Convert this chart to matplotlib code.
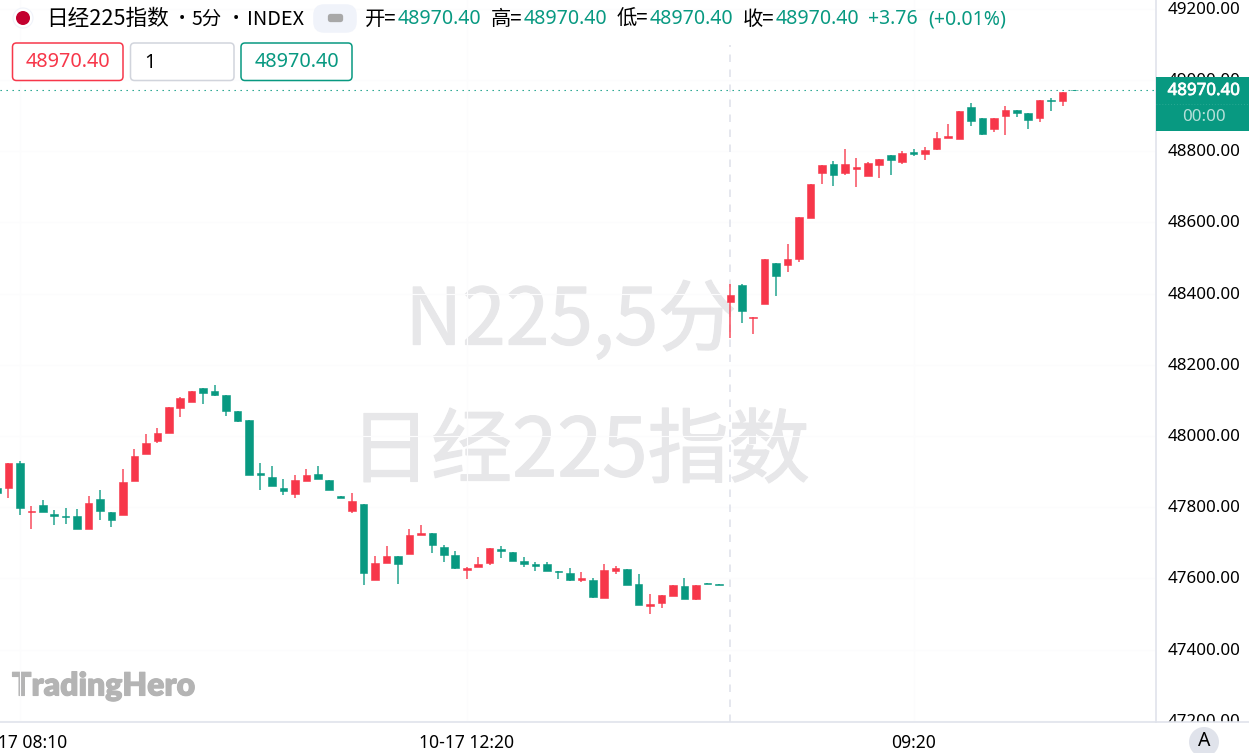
import numpy as np
import matplotlib
matplotlib.use("Agg")
import matplotlib.pyplot as plt
import matplotlib.patheffects as pe
from matplotlib.patches import FancyBboxPatch, Circle, Rectangle
from matplotlib.lines import Line2D
from matplotlib.transforms import Bbox, ScaledTranslation

opens = [47853,47854,47924,47785,47805,47780,47775,47776,47738,47822,47787,47778,47874,47949,47985,48009,48078,48096,48135,48127,48116,48069,48046,47895,47886,47854,47838,47874,47894,47875,47831,
         47788,47809,47594,47644,47664,47668,47721,47727,47688,47666,47623,47633,47644,47682,47675,47648,47639,47639,47620,47615,47595,47594,47546,47622,47627,47584,47522,47531,47551,47579,47543,47588,47585,
         48375,48424,48330,48370,48485,48480,48497,48612,48740,48764,48739,48750,48729,48762,48788,48770,48797,48792,48805,48838,48835,48923,48893,48862,48900,48915,48906,48892,48945,48941,48973]
highs = [47860,47923,47930,47802,47820,47791,47797,47794,47832,47847,47787,47908,47964,48006,48021,48082,48109,48126,48135,48143,48116,48069,48046,47923,47916,47879,47890,47908,47916,47875,47831,
         47841,47809,47664,47690,47664,47739,47751,47727,47693,47676,47631,47659,47686,47691,47675,47659,47645,47647,47620,47628,47619,47600,47639,47634,47627,47611,47556,47553,47580,47600,47582,47588,47585,
         48427,48427,48334,48498,48485,48538,48615,48707,48760,48773,48805,48782,48770,48779,48788,48800,48805,48811,48855,48876,48913,48936,48893,48892,48927,48915,48906,48944,48949,48967,48973]
lows = [47835,47827,47777,47740,47785,47751,47753,47740,47738,47764,47743,47778,47874,47949,47979,48009,48053,48096,48089,48111,48056,48038,47890,47849,47859,47833,47827,47874,47880,47847,47827,
        47783,47582,47594,47644,47585,47668,47721,47672,47647,47625,47597,47631,47637,47658,47648,47633,47620,47620,47598,47592,47591,47545,47546,47611,47580,47525,47500,47518,47551,47542,47540,47585,47582,
        48274,48318,48285,48370,48393,48460,48489,48612,48709,48703,48732,48698,48729,48724,48733,48765,48785,48775,48803,48838,48835,48872,48844,48855,48844,48896,48861,48883,48914,48927,48970]
closes = [47839,47923,47799,47789,47786,47776,47773,47740,47811,47790,47763,47870,47945,47981,48008,48082,48107,48126,48122,48114,48069,48042,47890,47891,47859,47844,47877,47891,47880,47847,47827,
          47818,47614,47644,47663,47639,47722,47726,47695,47666,47628,47628,47639,47686,47677,47648,47639,47635,47620,47617,47594,47600,47547,47623,47629,47582,47525,47528,47553,47580,47542,47582,47585,47582,
          48395,48351,48334,48498,48448,48496,48615,48707,48760,48732,48764,48756,48766,48779,48774,48795,48792,48803,48836,48842,48913,48886,48847,48892,48915,48906,48888,48944,48941,48967,48970.4]
bar_index = list(range(-1, 94))
session_break = 63
last_price = 48970.40
price_ticks = [47200,47400,47600,47800,48000,48200,48400,48600,48800,49000,49200]
time_tick_index = [1, 40, 79]
time_tick_labels = ["10-17 08:10", "10-17 12:20", "09:20"]

UP = "#f7374a"
DOWN = "#089981"
TEXT = "#000000"
LINE = "#e0e3eb"
CJK = ["Noto Sans CJK SC", "DejaVu Sans"]
NUM = ["Noto Sans", "DejaVu Sans"]
W, H = 1249, 753
AX_R, AX_B = 1156, 722

fig = plt.figure(figsize=(W/100, H/100), dpi=100, facecolor="white")
ax = fig.add_axes([0, 1-AX_B/H, AX_R/W, AX_B/H])
ax.set_xlim(-0.73, 100.15)
ax.set_ylim(47196.5, 49224.6)
ax.set_axisbelow(True)
ax.grid(True, color="#fcfcfd", lw=0.8)
for s in ("top", "left"):
    ax.spines[s].set_visible(False)
for s in ("right", "bottom"):
    ax.spines[s].set_color(LINE)
    ax.spines[s].set_linewidth(1.2)

ax.yaxis.tick_right()
ax.set_yticks(price_ticks)
ax.set_yticklabels([f"{p:.2f}" for p in price_ticks], family=NUM, fontsize=12.2, color=TEXT)
ax.set_xticks(time_tick_index)
ax.set_xticklabels(time_tick_labels, family=NUM, fontsize=12.6, color=TEXT)
ax.tick_params(axis="y", length=0, pad=8.6)
ax.tick_params(axis="x", length=0, pad=9)
shift = ScaledTranslation(0, 1.0/100, fig.dpi_scale_trans)
for lbl in ax.get_yticklabels():
    lbl.set_transform(lbl.get_transform() + shift)
    lbl.set_clip_on(True)
    lbl.set_clip_box(Bbox([[AX_R, H-AX_B], [W, H]]))

wm = [pe.withStroke(linewidth=0.9, foreground="#e7e7e9")]
ax.text(571/AX_R, 1-322/AX_B, "N225,5分", transform=ax.transAxes, family=CJK, fontsize=56.5,
        color="#e7e7e9", ha="center", va="center", zorder=0.5, path_effects=wm)
ax.text(580/AX_R, 1-453/AX_B, "日经225指数", transform=ax.transAxes, family=CJK, fontsize=58.5,
        color="#e7e7e9", ha="center", va="center", zorder=0.5, path_effects=wm)
ax.text(12/AX_R, 1-686/AX_B, "TradingHero", transform=ax.transAxes, family=["Lato", "DejaVu Sans"],
        fontsize=23, fontweight="heavy", color="#b4b4b4", ha="left", va="center", zorder=0.5,
        path_effects=[pe.withStroke(linewidth=0.8, foreground="#b4b4b4")])

ax.axvline(session_break, ymin=0, ymax=1-45/AX_B, color=LINE, lw=1.2, ls=(0, (4.5, 4.5)), zorder=1)
ax.axhline(last_price, color=DOWN, lw=0.8, ls=(0, (1.2, 4.2)), zorder=1)

o, c, hi, lo = map(np.array, (opens, closes, highs, lows))
idx = np.array(bar_index)
cols = np.where(c > o, UP, DOWN)
ax.vlines(idx, lo, hi, colors=cols, lw=1.15, alpha=0.85, zorder=2)
bottoms = np.minimum(o, c)
heights = np.maximum(np.abs(c - o), 1)
ax.bar(idx, heights, bottom=bottoms, width=0.66, color=cols, edgecolor=cols, lw=0.4, zorder=3)

ov = fig.add_axes([0, 0, 1, 1], zorder=5)
ov.set_xlim(0, W)
ov.set_ylim(H, 0)
ov.axis("off")
ov.patch.set_alpha(0)

def label(x, y, s, color=TEXT, size=14, fam=NUM, ha="left", **kw):
    ov.text(x, y, s, color=color, fontsize=size, family=fam, ha=ha, va="center", **kw)

def button(x0, y0, x1, y1, edge, face="white", r=4, lw=1.1):
    ov.add_patch(FancyBboxPatch((x0+r, y0+r), x1-x0-2*r, y1-y0-2*r, boxstyle=f"round,pad={r},rounding_size={r}",
                                fc=face, ec=edge, lw=lw))

ov.add_line(Line2D([AX_R, W], [AX_B, AX_B], color=LINE, lw=1.2))
ov.add_patch(Rectangle((AX_R, 77), W-AX_R, 54, fc=DOWN, ec="none"))
ov.add_line(Line2D([AX_R, W], [103.5, 103.5], color="#2aa893", lw=0.7, ls=(0, (1, 2))))
label(1204, 91, f"{last_price:.2f}", color="white", size=12.2, ha="center",
      path_effects=[pe.withStroke(linewidth=0.5, foreground="white")])
label(1204, 117, "00:00", color="#b5e0d9", size=12.2, ha="center")

ov.add_patch(Circle((1204, 742), 15, fc=LINE, ec="none"))
label(1204, 741, "A", size=14, ha="center")

ov.add_patch(Circle((23, 18), 10, fc="white", ec="#f0f3fa", lw=0.8))
ov.add_patch(Circle((23, 18), 7, fc="#c3002f", ec="none"))
label(46, 19, "日经225指数", size=15.6, fam=CJK)
label(181.5, 19, "•", size=12, fam=NUM, ha="center")
label(191.5, 19, "5分", size=14, fam=CJK)
label(236, 19, "•", size=12, fam=NUM, ha="center")
label(247, 19, "INDEX", size=14.4, fam=CJK)
button(314, 5, 356, 32, "#f0f3fa", face="#f0f3fa", r=10)
button(328, 14, 343, 22, "#a8a8a8", face="#a8a8a8", r=2.5, lw=0.2)

for x_key, x_val, key in [(365, 398, "开="), (491, 524, "高="), (617, 650, "低="), (743, 776, "收=")]:
    label(x_key, 19, key, size=14.6, fam=CJK)
    label(x_val, 19, f"{last_price:.2f}", color=DOWN, size=14.1)
label(868, 19, "+3.76", color=DOWN, size=14)
label(928, 19, "(+0.01%)", color=DOWN, size=14)

button(12.5, 43, 123, 80.5, UP)
label(68, 62, f"{last_price:.2f}", color=UP, size=14.3, ha="center")
button(130.5, 43, 234, 80.5, "#d1d4dc")
label(144, 63, "1", size=14.3)
button(241, 43, 352, 80.5, DOWN)
label(296.5, 62, f"{last_price:.2f}", color=DOWN, size=14.3, ha="center")

fig.savefig("out.png", dpi=100)
